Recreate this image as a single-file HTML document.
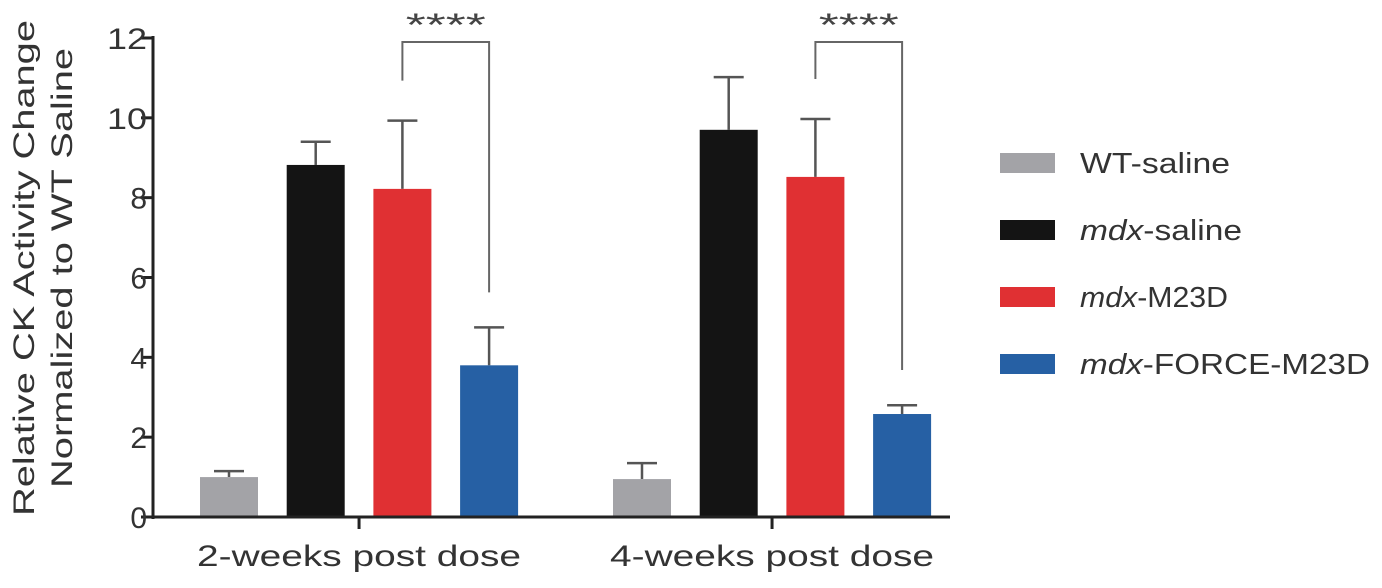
<!DOCTYPE html>
<html><head><meta charset="utf-8"><style>
body{margin:0;background:#fff;}
svg{display:block;font-family:"Liberation Sans",Arial,sans-serif;}
</style></head><body>
<svg id="chart" width="1382" height="588" viewBox="0 0 1382 588"></svg>
<script>
const groups = ["2-weeks post dose","4-weeks post dose"];
const seriesNames = ["WT-saline","mdx-saline","mdx-M23D","mdx-FORCE-M23D"];
const colors = ["#a3a3a7","#141414","#e03033","#2660a4"];
const means2wk = [1.0, 8.82, 8.22, 3.8];
const errs2wk = [1.15, 9.4, 9.93, 4.75];
const means4wk = [0.95, 9.7, 8.52, 2.58];
const errs4wk = [1.35, 11.02, 9.97, 2.8];
const yTicks = [0,2,4,6,8,10,12];
const means = [means2wk, means4wk];
const errs = [errs2wk, errs4wk];
const svg = document.getElementById('chart');
const NS = "http://www.w3.org/2000/svg";
const y0 = 517, yPer = (517-38)/12, axX = 153;
function yS(v){ return y0 - v*yPer; }
const groupStart = [200, 613];
const barStep = 86.7, barW = 58;
function xBar(g,i){ return groupStart[g] + i*barStep; }
function mk(tag, attrs){ const e=document.createElementNS(NS,tag); for(const k in attrs) e.setAttribute(k,attrs[k]); svg.appendChild(e); return e; }

for(let g=0; g<groups.length; g++){
  for(let i=0;i<seriesNames.length;i++){
    const x = xBar(g,i), top = yS(means[g][i]), et = yS(errs[g][i]), cx = x+barW/2;
    const l = mk('line',{x1:cx,x2:cx,y1:top,y2:et,stroke:'#555','stroke-width':2.5});
    
    
    const c = mk('line',{x1:cx-15,x2:cx+15,y1:et,y2:et,stroke:'#555','stroke-width':2.5});
    
    
    const r = mk('rect',{x:x,y:top,width:barW,height:y0-top,fill:colors[i]});
    
    
  }
  const xl = xBar(g,2)+barW/2, xr = xBar(g,3)+barW/2;
  const yl = yS(errs[g][2]) - 40, yr = yS(means[g][3]) - (g==0?73:44);
  const br = mk('path',{d:`M${xl},${yl} V42 H${xr} V${yr}`,fill:'none',stroke:'#666','stroke-width':2});
  
  
  const st = mk('text',{x:(xl+xr)/2,y:36,'text-anchor':'middle','font-size':32,fill:'#444',textLength:80,lengthAdjust:'spacingAndGlyphs'});
  st.textContent='****';
  
  
}
const ya = mk('line',{x1:axX,x2:axX,y1:36,y2:y0+2,stroke:'#222','stroke-width':3});


const xa = mk('line',{x1:axX-10,x2:950,y1:y0,y2:y0,stroke:'#222','stroke-width':3});


for(const t of yTicks){
  const tk = mk('line',{x1:axX-12,x2:axX,y1:yS(t),y2:yS(t),stroke:'#222','stroke-width':3});
  
  
  const tl = mk('text',{x:axX-6,y:yS(t)+11,'text-anchor':'end','font-size':30,fill:'#333'});
  if(t>=10){ tl.setAttribute('textLength',40); tl.setAttribute('lengthAdjust','spacingAndGlyphs'); }
  tl.textContent=t;
  
  
}
for(let g=0; g<groups.length; g++){
  const cx = (xBar(g,0)+xBar(g,3)+barW)/2;
  const tk = mk('line',{x1:cx,x2:cx,y1:y0,y2:y0+12,stroke:'#222','stroke-width':3});
  
  
  const tl = mk('text',{x:cx,y:566,'text-anchor':'middle','font-size':30,fill:'#333',textLength:324,lengthAdjust:'spacingAndGlyphs'});
  tl.textContent=groups[g];
  
  
}
const yt = mk('text',{transform:'translate(34,268) rotate(-90)','text-anchor':'middle','font-size':30,fill:'#333'});


const t1=document.createElementNS(NS,'tspan'); t1.setAttribute('x',0); t1.setAttribute('dy',0); t1.setAttribute('textLength',496); t1.setAttribute('lengthAdjust','spacingAndGlyphs'); t1.textContent='Relative CK Activity Change'; yt.appendChild(t1);
const t2=document.createElementNS(NS,'tspan'); t2.setAttribute('x',0); t2.setAttribute('dy',38); t2.setAttribute('textLength',440); t2.setAttribute('lengthAdjust','spacingAndGlyphs'); t2.textContent='Normalized to  WT Saline'; yt.appendChild(t2);
const legW = [150,162,148,290];
for(let i=0;i<seriesNames.length;i++){
  const yy = 163 + i*67;
  const sw = mk('rect',{x:1000,y:yy-10,width:55,height:20,fill:colors[i]});
  
  
  const tx = mk('text',{x:1080,y:yy+10,'font-size':29,fill:'#333',textLength:legW[i],lengthAdjust:'spacingAndGlyphs'});
  
  
  const n = seriesNames[i];
  if(n.startsWith('mdx')){
    const a=document.createElementNS(NS,'tspan'); a.setAttribute('font-style','italic'); a.textContent='mdx'; tx.appendChild(a);
    tx.appendChild(document.createTextNode(n.slice(3)));
  } else tx.textContent=n;
}
</script>
</body></html>
